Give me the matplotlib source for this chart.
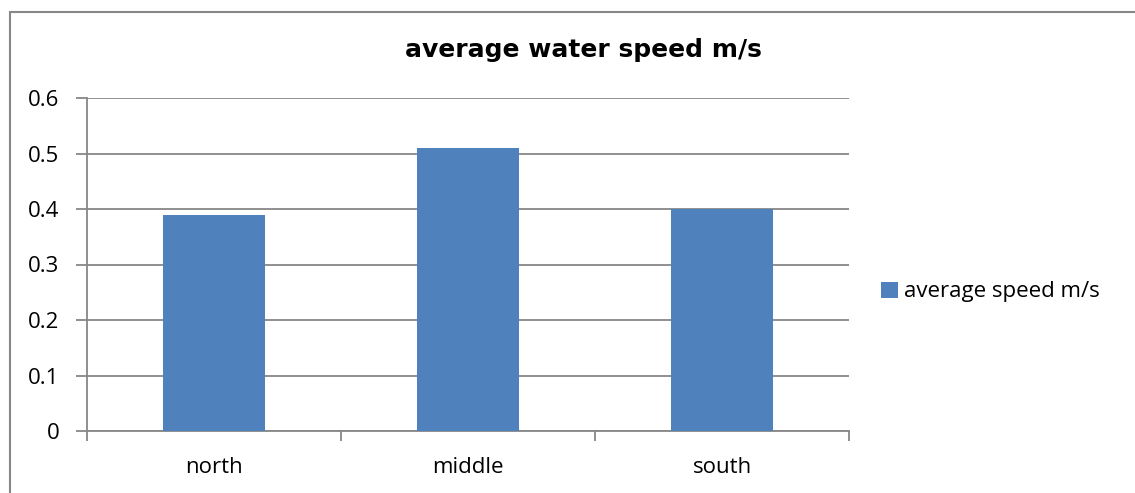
import matplotlib
matplotlib.use("Agg")
import matplotlib.pyplot as plt
from matplotlib.patches import Rectangle
import numpy as np

categories = ["north", "middle", "south"]
values = [0.39, 0.51, 0.40]
series_name = "average speed m/s"
title = "average water speed m/s"
yticks = [0, 0.1, 0.2, 0.3, 0.4, 0.5, 0.6]

plt.rcParams['font.family'] = ['Open Sans', 'DejaVu Sans']

W, H = 1135, 493
fig = plt.figure(figsize=(W / 100, H / 100), dpi=100)
fig.patch.set_facecolor("white")

# outer chart border
fig.add_artist(Rectangle((10 / W, -0.01), 1.02, 1 - 12 / H + 0.01, transform=fig.transFigure,
                         fill=False, edgecolor="#878787", linewidth=1.5))

left, right, top, bottom = 87, 849, 98, 431
ax = fig.add_axes([left / W, (H - bottom) / H, (right - left) / W, (bottom - top) / H])

grid_c = "#878787"
fs = 16
x = np.arange(len(categories))
bars = ax.bar(x, values, width=0.4, color="#4F81BD", label=series_name, zorder=3)

ax.set_xlim(-0.5, len(categories) - 0.5)
ax.set_ylim(0, 0.6)
ax.set_yticks(yticks)
ax.set_yticklabels([f"{v:g}" for v in yticks], fontsize=fs)
ax.yaxis.grid(True, color=grid_c, linewidth=1.3, zorder=0)

for s in ["top", "right"]:
    ax.spines[s].set_visible(False)
for s in ["left", "bottom"]:
    ax.spines[s].set_color(grid_c)
    ax.spines[s].set_linewidth(1.3)

ax.tick_params(axis="y", length=8, width=1.3, color=grid_c, pad=12, labelsize=fs)
# x ticks at category boundaries
ax.set_xticks(np.arange(-0.5, len(categories), 1.0))
ax.set_xticklabels([])
ax.set_xticks(x, minor=True)
ax.set_xticklabels(categories, minor=True, fontsize=fs)
ax.tick_params(axis="x", which="major", length=7, width=1.3, color=grid_c)
ax.tick_params(axis="x", which="minor", length=0, pad=19, labelsize=fs)

fig.text(583 / W, 1 - 50 / H, title, ha="center", va="center", fontsize=18,
         fontweight="bold", family=["DejaVu Sans"])

leg = fig.legend(handles=[bars], labels=[series_name], loc="center left",
                 bbox_to_anchor=(881 / W, 1 - 292 / H), frameon=False, fontsize=fs,
                 handlelength=0.75, handleheight=0.75, handletextpad=0.3, borderpad=0, borderaxespad=0)

fig.savefig("out.png", dpi=100, facecolor="white")
